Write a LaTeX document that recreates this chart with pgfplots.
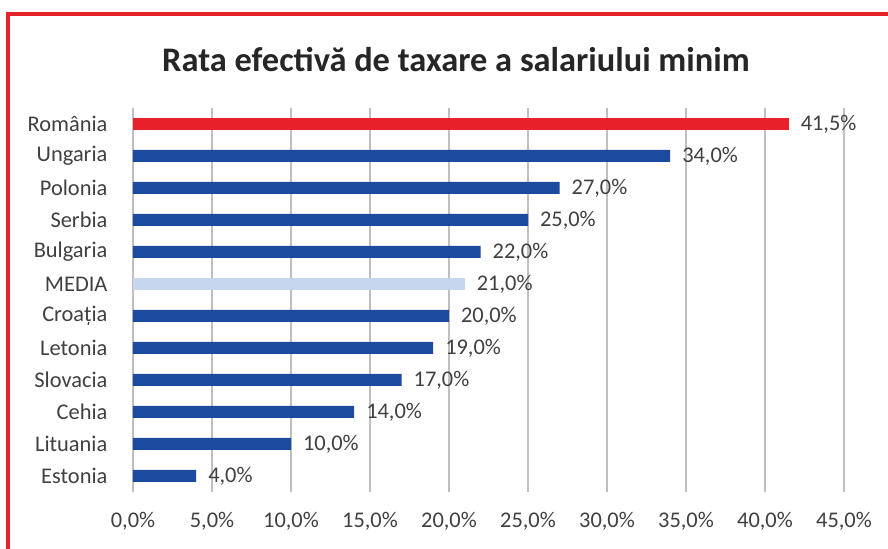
\documentclass[border=0pt]{standalone}
\usepackage{pgfplots}
\pgfplotsset{compat=1.18}
\usepackage{fontspec}
\setmainfont{Carlito}
\definecolor{barred}{HTML}{E8202A}
\definecolor{barblue}{HTML}{1C4A9C}
\definecolor{barlight}{HTML}{C6D6EE}
\definecolor{gridgray}{HTML}{BFBFBF}
\definecolor{txtgray}{HTML}{404040}
\definecolor{titlegray}{HTML}{262626}
\definecolor{borderred}{HTML}{E52229}
\begin{document}
\begin{tikzpicture}
\useasboundingbox (0,0) rectangle (444pt,274.5pt);
\fill[white] (0,0) rectangle (444pt,274.5pt);
\draw[borderred, line width=1.6pt] (4pt,0) -- (4pt,267.5pt) -- (444pt,267.5pt);
\node[font=\bfseries\fontsize{17.2pt}{20pt}\selectfont, text=titlegray] at (228pt,244.5pt) {Rata efectivă de taxare a salariului minim};
\begin{axis}[
  at={(66.5pt,28.5pt)}, anchor=south west,
  scale only axis, width=355.5pt, height=192pt,
  xbar, bar width=6pt, bar shift=0pt,
  xmin=0, xmax=45, ymin=-0.5, ymax=11.5,
  xtick={0,5,...,45},
  ytick={0,...,11},
  yticklabels={Estonia,Lituania,Cehia,Slovacia,Letonia,Croația,MEDIA,Bulgaria,Serbia,Polonia,Ungaria,România},
  /pgf/number format/assume math mode=true,
  xticklabel={\pgfmathprintnumber[fixed,fixed zerofill,precision=1,use comma]{\tick}\%},
  xmajorgrids, major grid style={gridgray, line width=0.75pt},
  axis line style={draw=none},
  major tick style={draw=none},
  tick label style={font=\fontsize{11.2pt}{13pt}\selectfont, text=txtgray},
  xticklabel style={yshift=-6.5pt},
  yticklabel style={xshift=-5pt},
  nodes near coords={\pgfmathprintnumber[fixed,fixed zerofill,precision=1,use comma]{\pgfplotspointmeta}\%},
  point meta=x,
  every node near coord/.append style={font=\fontsize{11.2pt}{13pt}\selectfont, text=txtgray, anchor=west, xshift=2.5pt},
  clip=false,
]
\addplot[draw=none, fill=barred] coordinates {(41.5,11)};
\addplot[draw=none, fill=barblue] coordinates {(34,10) (27,9) (25,8) (22,7) (20,5) (19,4) (17,3) (14,2) (10,1) (4,0)};
\addplot[draw=none, fill=barlight] coordinates {(21,6)};
\end{axis}
\end{tikzpicture}
\end{document}
